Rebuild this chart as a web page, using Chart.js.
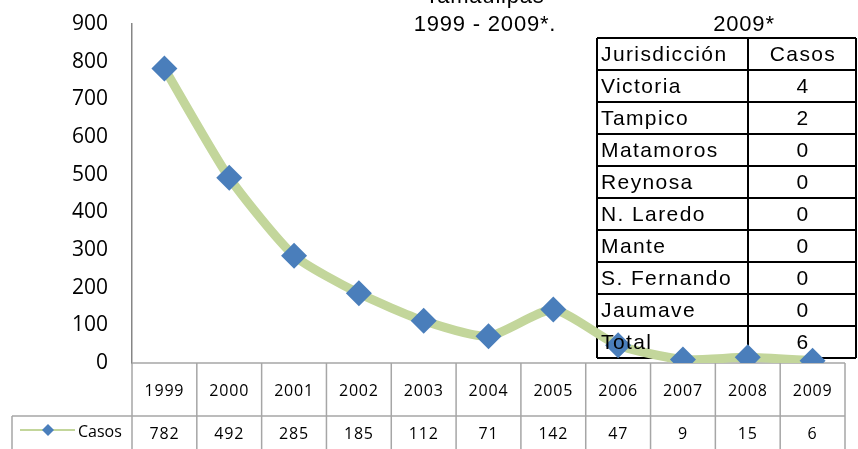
<!DOCTYPE html>
<html>
<head>
<meta charset="utf-8">
<script src="https://cdn.jsdelivr.net/npm/chart.js@4/dist/chart.umd.min.js"></script>
<style>
  body { margin: 0; background: #fff; }
  #wrap { width: 858px; height: 449px; }
</style>
</head>
<body>
<div id="wrap"><canvas id="grafica" width="858" height="449"></canvas></div>
<script>
const years = ["1999", "2000", "2001", "2002", "2003", "2004", "2005", "2006", "2007", "2008", "2009"];
const casos = [782, 492, 285, 185, 112, 71, 142, 47, 9, 15, 6];
const yMin = 0, yMax = 900, yStep = 100;

const titleLines = ["Tamaulipas", "1999 - 2009*."];
const tableTitle = "2009*";
const tableHeader = ["Jurisdicción", "Casos"];
const jurisdicciones = ["Victoria", "Tampico", "Matamoros", "Reynosa", "N. Laredo", "Mante", "S. Fernando", "Jaumave", "Total"];
const casos2009 = [4, 2, 0, 0, 0, 0, 0, 0, 6];

const GREEN = "#c3d69b";
const BLUE = "#4a7ebb";
const GRID = "#a6a6a6";

// tabla de datos bajo el eje x + tabla de jurisdicciones
const extras = {
  id: "extras",
  beforeDatasetsDraw(chart) {
    const ctx = chart.ctx;
    const area = chart.chartArea;
    const colW = area.width / years.length;
    const bottom = chart.height;

    ctx.save();
    ctx.strokeStyle = GRID;
    ctx.lineWidth = 1.5;
    ctx.beginPath();
    ctx.moveTo(area.left, area.bottom);
    ctx.lineTo(area.right, area.bottom);
    ctx.moveTo(12, 416);
    ctx.lineTo(area.right, 416);
    ctx.moveTo(12, 416);
    ctx.lineTo(12, bottom);
    for (let i = 0; i <= years.length; i++) {
      const px = area.left + i * colW;
      ctx.moveTo(px, area.bottom);
      ctx.lineTo(px, bottom);
    }
    ctx.stroke();

    // tabla de jurisdicciones (bordes)
    const tL = 597, tD = 748, tR = 856, tT = 38, rowH = 32;
    const rows = jurisdicciones.length + 1;
    ctx.strokeStyle = "#000";
    ctx.lineWidth = 2;
    ctx.beginPath();
    for (let r = 0; r <= rows; r++) {
      ctx.moveTo(tL, tT + r * rowH);
      ctx.lineTo(tR, tT + r * rowH);
    }
    ctx.moveTo(tL, tT); ctx.lineTo(tL, tT + rows * rowH);
    ctx.moveTo(tD, tT); ctx.lineTo(tD, tT + rows * rowH);
    ctx.moveTo(tR, tT); ctx.lineTo(tR, tT + rows * rowH);
    ctx.stroke();
    ctx.restore();
  },
  afterDatasetsDraw(chart) {
    const ctx = chart.ctx;
    const x = chart.scales.x;

    ctx.save();
    ctx.fillStyle = "#000";
    ctx.textBaseline = "middle";

    // datos
    ctx.font = "16px 'Open Sans'";
    ctx.letterSpacing = "0.8px";
    ctx.textAlign = "center";
    years.forEach((y, i) => {
      const px = x.getPixelForValue(i);
      ctx.fillText(y, px, 391);
      ctx.fillText(String(casos[i]), px, 434);
    });
    ctx.letterSpacing = "0px";

    // leyenda
    ctx.strokeStyle = GREEN;
    ctx.lineWidth = 2;
    ctx.beginPath();
    ctx.moveTo(20, 430);
    ctx.lineTo(75, 430);
    ctx.stroke();
    ctx.fillStyle = BLUE;
    ctx.beginPath();
    ctx.moveTo(48, 424); ctx.lineTo(54, 430); ctx.lineTo(48, 436); ctx.lineTo(42, 430);
    ctx.closePath();
    ctx.fill();
    ctx.fillStyle = "#000";
    ctx.textAlign = "left";
    ctx.font = "16px 'Open Sans'";
    ctx.fillText("Casos", 78, 432);

    // titulos
    ctx.font = "22px 'Liberation Sans'";
    ctx.letterSpacing = "0.8px";
    ctx.textAlign = "center";
    ctx.textBaseline = "alphabetic";
    ctx.fillText(titleLines[0], 485, 3);
    ctx.fillText(titleLines[1], 485, 31);
    ctx.fillText(tableTitle, 744, 31);

    // tabla de jurisdicciones (texto)
    const tL = 597, tT = 38, rowH = 32;
    ctx.font = "21px 'Liberation Sans'";
    ctx.letterSpacing = "1.4px";
    ctx.textBaseline = "middle";
    ctx.textAlign = "left";
    ctx.fillText(tableHeader[0], tL + 4, tT + rowH / 2 + 1);
    ctx.textAlign = "center";
    ctx.fillText(tableHeader[1], 803, tT + rowH / 2 + 1);
    jurisdicciones.forEach((j, r) => {
      const cy = tT + (r + 1.5) * rowH + 1;
      ctx.textAlign = "left";
      ctx.fillText(j, tL + 4, cy);
      ctx.textAlign = "center";
      ctx.fillText(String(casos2009[r]), 803, cy);
    });
    ctx.restore();
  }
};

new Chart(document.getElementById("grafica"), {
  type: "line",
  data: {
    labels: years,
    datasets: [
      {
        label: "Casos",
        data: casos,
        borderColor: GREEN,
        borderWidth: 9,
        tension: 0.2,
        pointStyle: "rectRot",
        pointRadius: 13,
        pointBackgroundColor: BLUE,
        pointBorderWidth: 0,
        pointBorderColor: BLUE,
      },
    ],
  },
  options: {
    responsive: false,
    animation: false,
    layout: {
      padding: { top: 24, bottom: 86, left: 0, right: 0 },
    },
    plugins: {
      legend: { display: false },
      title: { display: false },
      tooltip: { enabled: false },
    },
    scales: {
      x: {
        display: false,
        offset: true,
      },
      y: {
        min: yMin,
        max: yMax,
        afterFit: (s) => {
          s.width = 132;
          s.paddingTop = 0;
          s.paddingBottom = 0;
        },
        ticks: {
          stepSize: yStep,
          padding: 24,
          color: "#000",
          font: { family: "Open Sans", size: 21 },
        },
        grid: { display: false, drawTicks: false },
        border: { display: true, color: "#868686", width: 1.5 },
      },
    },
  },
  plugins: [extras],
});
</script>
</body>
</html>
